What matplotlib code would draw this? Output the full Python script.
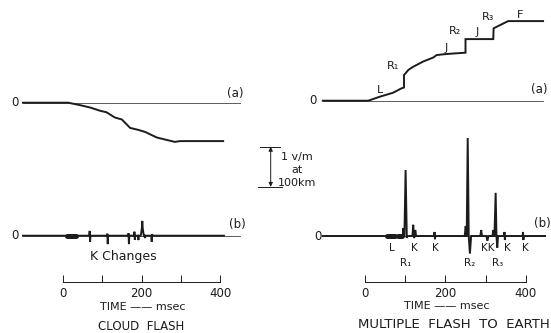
import matplotlib
matplotlib.use("Agg")
import matplotlib.pyplot as plt

W, H = 551, 333

# ---- data (time in msec, field in V/m) ----
# cloud flash, (a) field change
cloud_a_t = [-102, 13, 43, 69, 94, 111, 132, 150, 171, 192, 209, 239, 264, 285, 298, 408]
cloud_a_v = [0, 0, -0.06, -0.12, -0.20, -0.24, -0.37, -0.42, -0.63, -0.68, -0.73, -0.87, -0.93, -0.98, -0.96, -0.96]

# cloud flash, (b) differentiated record with K changes
cloud_b_t = [-102, 67, 68, 69, 70, 112, 113, 114, 115, 166, 167, 168, 169, 181, 182, 183, 184,
             191, 192, 193, 198, 199, 201, 202, 203, 205, 206, 208, 209, 210,
             225, 226, 227, 228, 410]
cloud_b_v = [0, 0, 0.12, -0.15, 0, 0, 0.05, -0.21, 0, 0, 0.06, -0.21, 0, 0, 0.10, -0.10, 0,
             0, -0.11, 0, 0, 0.05, 0.20, 0.37, 0.20, 0.05, 0, 0, -0.06, 0,
             0, -0.15, 0.04, 0, 0]
cloud_blobs = [(10, 34)]

# multiple flash to earth, (a) field change
flash_a_t = [-105, 8, 37, 70, 91, 97, 97, 108, 120, 145, 170, 178, 195, 220, 250, 250,
             319, 320, 328, 344, 356, 443]
flash_a_v = [0, 0, 0.10, 0.20, 0.31, 0.33, 0.64, 0.77, 0.85, 0.98, 1.08, 1.14, 1.16, 1.18, 1.20, 1.54,
             1.54, 1.81, 1.85, 1.93, 1.99, 1.99]

# multiple flash to earth, (b) differentiated record
flash_b_t = [-105, 94, 95, 96, 98, 101, 104, 105, 118, 120, 122, 124, 125, 127,
             172, 173, 174, 175, 248, 250.5, 252, 253, 255.5, 258, 261, 264,
             287, 289, 291, 302, 304.5, 307, 317, 319, 321, 322, 325, 327, 329, 331,
             346, 347, 348, 349, 392, 393, 394, 395, 448]
flash_b_v = [0, 0, 0.20, 0, 0, 1.65, -0.05, 0, 0, 0.28, -0.05, 0, 0.15, 0,
             0, 0.10, -0.08, 0, 0, 0.25, 0, 0, 2.45, 0, -0.44, 0,
             0, 0.15, 0, 0, -0.12, 0, 0, 0.15, 0, 0, 1.08, 0, -0.29, 0,
             0, 0.10, -0.10, 0, 0, 0.10, -0.10, 0, 0]
flash_blobs = [(54, 74), (82, 93)]

time_ticks = [0, 100, 200, 300, 400]
time_labels = ["0", "", "200", "", "400"]

flash_a_labels = [("L", 37, 0.27), ("R\u2081", 70, 0.87), ("J", 203, 1.32), ("R\u2082", 224, 1.75),
                  ("J", 278, 1.72), ("R\u2083", 307, 2.10), ("F", 386, 2.14)]
flash_b_labels = [("L", 67, -0.29), ("K", 122, -0.29), ("K", 174, -0.29), ("KK", 306, -0.29),
                  ("K", 355, -0.29), ("K", 398, -0.29),
                  ("R\u2081", 102, -0.675), ("R\u2082", 261, -0.675), ("R\u2083", 331, -0.675)]

INK = "#1c1c1c"
plt.rcParams["font.family"] = ["DejaVu Sans"]

fig = plt.figure(figsize=(W / 100, H / 100), dpi=100)
fig.patch.set_facecolor("white")


def overlay(t0_px, px_per_ms, base_px, px_per_unit=40.0):
    # full-figure axes whose scales put t=0 and v=0 at the given pixels
    ax = fig.add_axes([0, 0, 1, 1])
    ax.patch.set_alpha(0)
    ax.set_xlim(-t0_px / px_per_ms, (W - t0_px) / px_per_ms)
    ax.set_ylim((base_px - H) / px_per_unit, base_px / px_per_unit)
    for s in ax.spines.values():
        s.set_visible(False)
    ax.set_xticks([])
    ax.set_yticks([])
    return ax


def time_scale(ax, y):
    sp = ax.spines["bottom"]
    sp.set_visible(True)
    sp.set_position(("data", y))
    sp.set_bounds(0, 400)
    sp.set_linewidth(0.7)
    sp.set_color(INK)
    ax.set_xticks(time_ticks)
    ax.set_xticklabels(time_labels)
    ax.tick_params(axis="x", direction="in", length=5, width=0.7, color=INK,
                   labelsize=8.5, labelcolor=INK, pad=4)


def trace(ax, t, v, thin_end, blobs=()):
    ax.plot([t[0], thin_end], [0, 0], color=INK, lw=0.5)
    ax.plot(t, v, color=INK, lw=1.4, solid_joinstyle="miter")
    for a, b in blobs:
        ax.plot([a, b], [0, 0], color=INK, lw=3.6, solid_capstyle="round")


# left column: cloud flash
la = overlay(63, 0.3925, 102.7)
lb = overlay(63, 0.3925, 235.7)
trace(la, cloud_a_t, cloud_a_v, 451)
trace(lb, cloud_b_t, cloud_b_v, 451, cloud_blobs)
la.text(-122, 0, "0", fontsize=8.5, color=INK, ha="center", va="center")
lb.text(-122, 0, "0", fontsize=8.5, color=INK, ha="center", va="center")
la.text(438, 0.24, "(a)", fontsize=8.5, color=INK, ha="center", va="center")
lb.text(443, 0.29, "(b)", fontsize=8.5, color=INK, ha="center", va="center")
lb.text(153, -0.53, "K Changes", fontsize=9, color=INK, ha="center", va="center")
time_scale(lb, -1.15)
lb.text(204, -1.78, "TIME \u2014\u2014 msec", fontsize=8, color=INK, ha="center", va="center")
lb.text(199, -2.26, "CLOUD  FLASH", fontsize=8.5, color=INK, ha="center", va="center")

# right column: multiple flash to earth
ra = overlay(365, 0.402, 100.7)
rb = overlay(365, 0.402, 236)
trace(ra, flash_a_t, flash_a_v, 443)
trace(rb, flash_b_t, flash_b_v, 448, flash_blobs)
ra.text(-129, 0, "0", fontsize=8.5, color=INK, ha="center", va="center")
rb.text(-117, 0, "0", fontsize=8.5, color=INK, ha="center", va="center")
ra.text(433, 0.27, "(a)", fontsize=8.5, color=INK, ha="center", va="center")
rb.text(440, 0.30, "(b)", fontsize=8.5, color=INK, ha="center", va="center")
for s, t, v in flash_a_labels:
    ra.text(t, v, s, fontsize=8, color=INK, ha="center", va="center")
for s, t, v in flash_b_labels:
    rb.text(t, v, s, fontsize=7.5, color=INK, ha="center", va="center")
time_scale(rb, -1.14)
rb.text(204, -1.76, "TIME \u2014\u2014 msec", fontsize=8, color=INK, ha="center", va="center")
rb.text(222, -2.20, "MULTIPLE  FLASH  TO  EARTH", fontsize=9.5, color=INK, ha="center", va="center")

# 1 V/m scale bar
scale_lo = 1.23
scale_hi = scale_lo + 1.0
rb.plot([-261, -211], [scale_hi, scale_hi], color=INK, lw=0.7)
rb.plot([-266, -206], [scale_lo, scale_lo], color=INK, lw=0.7)
rb.annotate("", xy=(-234.6, scale_hi), xytext=(-234.6, scale_lo),
            arrowprops=dict(arrowstyle="<|-|>", color=INK, lw=0.7,
                            mutation_scale=6, shrinkA=0, shrinkB=0))
rb.text(-170, 1.98, "1 v/m", fontsize=8, color=INK, ha="center", va="center")
rb.text(-170, 1.65, "at", fontsize=8, color=INK, ha="center", va="center")
rb.text(-170, 1.33, "100km", fontsize=8, color=INK, ha="center", va="center")

fig.savefig("out.png", dpi=100, facecolor="white")
